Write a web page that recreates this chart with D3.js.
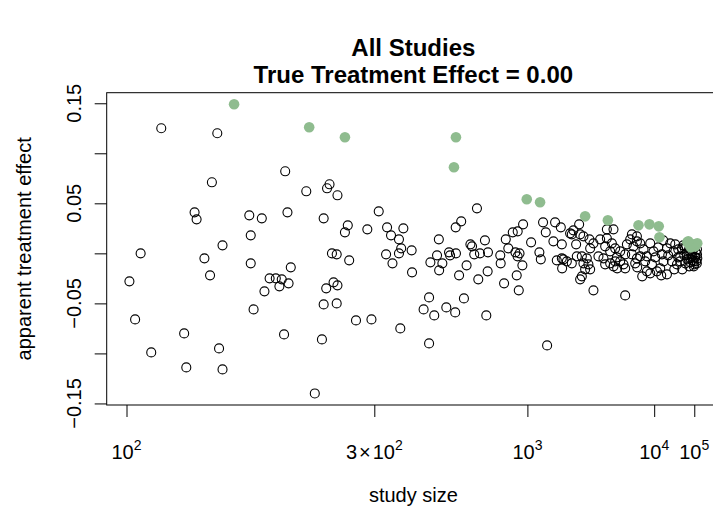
<!DOCTYPE html>
<html>
<head>
<meta charset="utf-8">
<script src="https://cdn.jsdelivr.net/npm/d3@7"></script>
<style>
    body { margin: 0; background: #fff; overflow: hidden; }
    #chart-area { width: 713px; height: 508px; }
    text { font-family: "Liberation Sans", Arial, Helvetica, sans-serif; fill: #000; }
</style>
</head>
<body>
<div id="chart-area"></div>
<script>

// non-significant studies (open circles): size and apparent effect
const studySize = [
    113, 140, 137, 188, 208, 234, 231, 244, 128, 129,
    160, 169, 190, 227, 161, 143, 105, 237, 243, 101,
    133, 136, 161, 193, 175, 180, 185, 191, 183, 171,
    163, 103, 123, 109, 124, 141, 143, 187, 225, 217,
    239, 244, 230, 227, 243, 260, 270, 295, 352, 427,
    427, 411, 443, 484, 518, 555, 670, 308, 618, 258,
    254, 288, 324, 332, 359, 349, 354, 379, 458, 543,
    520, 585, 662, 802, 859, 903, 955, 1041, 494, 498,
    521, 322, 335, 349, 380, 452, 431, 470, 459, 567,
    534, 593, 604, 634, 680, 625, 678, 761, 764, 822,
    882, 920, 902, 948, 789, 913, 894, 1252,
    1193, 1232, 1382, 1488, 1353, 1508, 1688, 1924, 1769, 1729,
    1953, 1840, 2054, 2259, 2413, 2285, 2709, 3063, 3484, 3374,
    2967, 3606, 3263, 4007, 4657, 5037, 5465, 5966, 4478, 5251,
    6522, 1540, 1613, 1729, 1859, 2004, 2166, 2054, 2222, 2109,
    2004, 1953, 2967, 3263, 3606, 4007, 3484, 4309, 2875, 2629,
    5708, 2413, 4478, 1143, 1162, 1412, 1508, 1514, 2285, 3063,
    3759, 4478, 3735,
    5251, 5966, 6522, 5966, 6014, 7159, 7918, 8776, 9781, 9273,
    7918, 8776, 11010, 12437, 14162, 13283, 16343, 18980, 22309, 20594,
    16343, 26748, 32457, 36138, 51502, 67716, 92995, 137325, 45330, 137325,
    39392, 142690, 100160, 62100, 36852, 28800, 81600, 42207, 67716, 24378,
    28800, 48816, 32457, 125900, 81600, 52720, 7524, 10369, 11541, 13992,
    17312, 23128, 12925, 6897, 90000, 120000, 75000, 110000, 58000, 135000,
    95000, 44000, 85000
];
const apparentEffect = [
    0.125, 0.120, 0.071, 0.082, 0.062, 0.069, 0.065, 0.058, 0.041, 0.034,
    0.038, 0.035, 0.041, 0.035, 0.018, 0.008, 0.000, 0.000, -0.001, -0.028,
    -0.005, -0.022, -0.010, -0.014, -0.025, -0.025, -0.026, -0.030, -0.033, -0.038,
    -0.056, -0.066, -0.080, -0.099, -0.114, -0.095, -0.116, -0.081, -0.086, -0.140,
    -0.029, -0.032, -0.035, -0.051, -0.050, -0.007, -0.067, -0.066, -0.075, -0.090,
    -0.044, -0.056, -0.062, -0.054, -0.059, -0.045, -0.062, 0.042, 0.045, 0.028,
    0.021, 0.024, 0.026, 0.018, 0.025, 0.014, 0.005, 0.003, 0.014, 0.032,
    0.026, 0.009, 0.013, 0.014, 0.021, 0.022, 0.029, 0.011, 0.001, -0.002,
    0.000, -0.001, -0.010, 0.000, -0.019, -0.002, -0.009, -0.010, -0.017, -0.012,
    -0.022, 0.007, -0.001, 0.000, 0.001, -0.026, -0.018, -0.002, -0.010, 0.005,
    0.001, 0.000, -0.003, -0.012, -0.030, -0.037, -0.022, -0.092,
    0.031, 0.021, 0.031, 0.026, 0.012, 0.009, 0.020, 0.029, 0.023, 0.019,
    0.019, 0.009, 0.017, 0.014, 0.010, 0.005, 0.014, 0.015, 0.024, 0.010,
    0.007, 0.005, 0.002, 0.002, 0.009, 0.014, 0.007, 0.012, -0.001, -0.001,
    -0.003, -0.006, -0.008, -0.010, -0.003, -0.003, -0.005, -0.010, -0.011, -0.016,
    -0.023, -0.026, -0.011, -0.010, -0.008, -0.008, -0.013, -0.011, -0.005, -0.003,
    -0.010, -0.037, -0.042, 0.001, -0.006, -0.007, -0.005, -0.015, -0.016, 0.024,
    -0.015, -0.015, -0.004,
    0.019, 0.017, 0.010, -0.005, -0.014, 0.004, -0.003, 0.010, 0.002, -0.011,
    -0.018, -0.020, -0.018, -0.015, -0.008, -0.001, 0.005, 0.010, 0.002, -0.008,
    -0.021, -0.011, -0.003, 0.005, 0.000, -0.005, -0.008, -0.001, -0.010, 0.004,
    0.008, -0.005, -0.011, -0.013, -0.016, -0.004, 0.002, -0.002, -0.009, 0.009,
    0.004, 0.007, -0.008, -0.008, -0.003, -0.006, -0.008, -0.004, 0.006, 0.013,
    -0.002, -0.016, -0.022, -0.023, 0.004, 0.001, -0.001, -0.004, 0.003, -0.010,
    -0.013, 0.005, -0.007
];

// significant studies (green dots)
const sigStudySize = [150, 211, 254, 521, 513, 993, 1152, 2109, 3121, 6226, 8555,
    11756, 12067, 62100, 81600, 100160, 70830, 52720, 111940, 142690, 57110];
const sigEffect = [0.149, 0.126, 0.116, 0.116, 0.086, 0.054, 0.051, 0.037, 0.033, 0.028, 0.029,
    0.027, 0.016, 0.009, 0.007, 0.009, 0.006, 0.011, 0.007, 0.010, 0.012];

// axis ticks
const xTickValues = [100, 300, 1000, 10000, 100000];
const xTickMant = ["", "3", "", "", ""];
const xTickExp = ["2", "2", "3", "4", "5"];
const yTickValues = [-0.15, -0.10, -0.05, 0, 0.05, 0.10, 0.15];
const yTickLabels = ["\u22120.15", "", "\u22120.05", "", "0.05", "", "0.15"];


class FunnelVis {

    constructor(_parentElement, _openData, _sigData) {
        this.parentElement = _parentElement;
        this.openData = _openData;
        this.sigData = _sigData;

        this.initVis();
    }


    initVis() {
        let vis = this;

        // margins (the plot box runs a little past the right edge of the picture)
        vis.margin = {top: 92.7, right: -7, bottom: 103, left: 106.7};
        vis.width = document.getElementById(vis.parentElement).getBoundingClientRect().width - vis.margin.left - vis.margin.right;
        vis.height = document.getElementById(vis.parentElement).getBoundingClientRect().height - vis.margin.top - vis.margin.bottom;

        vis.svg = d3.select(`#${vis.parentElement}`)
            .append("svg")
            .attr("width", 713)
            .attr("height", 508);

        vis.plot = vis.svg.append("g")
            .attr("transform", `translate (${vis.margin.left}, ${vis.margin.top})`);

        // x is plotted on -1/sqrt(n), like the original
        vis.tx = n => -1 / Math.sqrt(n);

        vis.wrangleData();
    }


    wrangleData() {
        let vis = this;

        vis.allData = vis.openData.concat(vis.sigData);

        // R style 4% padding around the data range
        let tExt = d3.extent(vis.allData, d => vis.tx(d.n));
        let tPad = (tExt[1] - tExt[0]) * 0.04;
        vis.x = d3.scaleLinear()
            .domain([tExt[0] - tPad, tExt[1] + tPad])
            .range([0, vis.width]);

        let yExt = d3.extent(vis.allData, d => d.effect);
        let yPad = (yExt[1] - yExt[0]) * 0.04;
        vis.y = d3.scaleLinear()
            .domain([yExt[0] - yPad, yExt[1] + yPad])
            .range([vis.height, 0]);

        vis.updateVis();
    }


    updateVis() {
        let vis = this;

        // box
        vis.plot.append("rect")
            .attr("x", 0)
            .attr("y", 0)
            .attr("width", vis.width)
            .attr("height", vis.height)
            .attr("fill", "none")
            .attr("stroke", "#000")
            .attr("stroke-width", 1);

        // x axis ticks
        let xAxis = d3.axisBottom(vis.x)
            .tickValues(xTickValues.map(vis.tx))
            .tickSize(12)
            .tickSizeOuter(0)
            .tickFormat("");
        let xg = vis.plot.append("g")
            .attr("transform", `translate(0, ${vis.height})`)
            .call(xAxis);
        xg.select(".domain").remove();
        xg.selectAll("line").attr("stroke", "#000");

        // x tick labels with superscripts
        let xLab = vis.svg.selectAll(".x-label")
            .data(xTickValues)
            .enter()
            .append("text")
            .attr("class", "x-label")
            .attr("x", d => vis.margin.left + vis.x(vis.tx(d)))
            .attr("y", 459)
            .attr("text-anchor", "middle")
            .attr("font-size", 20);
        xLab.each(function(d, i) {
            let t = d3.select(this);
            if (xTickMant[i] !== "") {
                t.append("tspan").text(xTickMant[i]);
                t.append("tspan").attr("dx", 2).text("\u00d7");
                t.append("tspan").attr("dx", 2).text("10");
            } else {
                t.append("tspan").text("10");
            }
            t.append("tspan")
                .attr("dy", -9)
                .attr("font-size", 14)
                .text(xTickExp[i]);
        });

        // y axis
        let yAxis = d3.axisLeft(vis.y)
            .tickValues(yTickValues)
            .tickSize(12)
            .tickSizeOuter(0)
            .tickFormat("");
        let yg = vis.plot.append("g").call(yAxis);
        yg.select(".domain").remove();
        yg.selectAll("line").attr("stroke", "#000");

        vis.svg.selectAll(".y-label")
            .data(yTickValues)
            .enter()
            .append("text")
            .attr("class", "y-label")
            .attr("transform", d => `translate(81, ${vis.margin.top + vis.y(d)}) rotate(-90)`)
            .attr("text-anchor", "middle")
            .attr("font-size", 20)
            .text((d, i) => yTickLabels[i]);

        // axis titles
        vis.svg.append("text")
            .attr("x", vis.margin.left + vis.width / 2)
            .attr("y", 502)
            .attr("text-anchor", "middle")
            .attr("font-size", 20)
            .text("study size");

        vis.svg.append("text")
            .attr("transform", `translate(31, ${vis.margin.top + vis.height / 2}) rotate(-90)`)
            .attr("text-anchor", "middle")
            .attr("font-size", 20)
            .text("apparent treatment effect");

        // title, two lines
        vis.svg.append("text")
            .attr("x", vis.margin.left + vis.width / 2)
            .attr("y", 56)
            .attr("text-anchor", "middle")
            .attr("font-size", 24)
            .attr("font-weight", "bold")
            .text("All Studies");
        vis.svg.append("text")
            .attr("x", vis.margin.left + vis.width / 2)
            .attr("y", 83)
            .attr("text-anchor", "middle")
            .attr("font-size", 24)
            .attr("font-weight", "bold")
            .text("True Treatment Effect = 0.00");

        // open circles
        vis.plot.append("g")
            .attr("class", "open-points")
            .selectAll("circle")
            .data(vis.openData)
            .enter()
            .append("circle")
            .attr("cx", d => vis.x(vis.tx(d.n)))
            .attr("cy", d => vis.y(d.effect))
            .attr("r", 4.5)
            .attr("fill", "none")
            .attr("stroke", "#000")
            .attr("stroke-width", 1.1);

        // green significant ones on top
        vis.plot.append("g")
            .attr("class", "sig-points")
            .selectAll("circle")
            .data(vis.sigData)
            .enter()
            .append("circle")
            .attr("cx", d => vis.x(vis.tx(d.n)))
            .attr("cy", d => vis.y(d.effect))
            .attr("r", 5.3)
            .attr("fill", "#8fbc8f");
    }

}

let openData = studySize.map((n, i) => ({n: n, effect: apparentEffect[i]}));
let sigData = sigStudySize.map((n, i) => ({n: n, effect: sigEffect[i]}));

let funnelVis = new FunnelVis("chart-area", openData, sigData);

</script>
</body>
</html>
